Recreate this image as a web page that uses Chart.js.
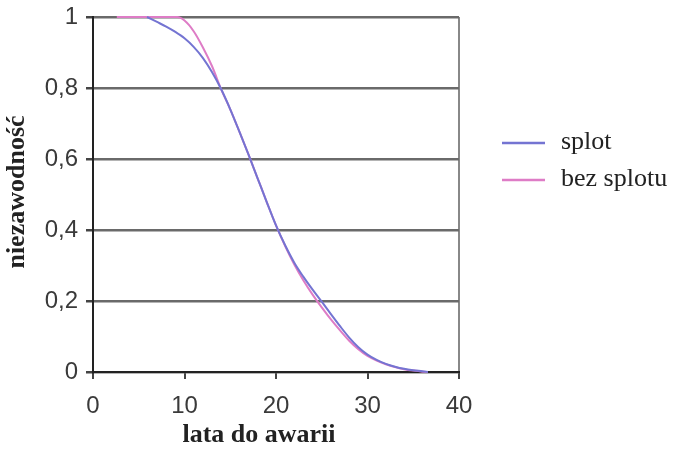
<!DOCTYPE html>
<html>
<head>
<meta charset="utf-8">
<script src="https://cdn.jsdelivr.net/npm/chart.js@4/dist/chart.umd.min.js"></script>
<style>
html,body{margin:0;padding:0;background:#fff;}
#wrap{width:673px;height:450px;}
</style>
</head>
<body>
<div id="wrap"><canvas id="c" width="673" height="450"></canvas></div>
<script>
const seriesNames = ['splot', 'bez splotu'];
const splotX = [5.9, 7, 8, 9, 10, 11, 12, 13, 14, 15, 16, 17, 18, 19, 20, 21, 22, 23, 24, 25, 26, 27, 28, 29, 30, 31, 32, 33, 34, 35, 36, 36.6];
const splotY = [1, 0.986, 0.973, 0.958, 0.94, 0.916, 0.885, 0.845, 0.797, 0.74, 0.677, 0.612, 0.545, 0.478, 0.413, 0.357, 0.308, 0.268, 0.232, 0.198, 0.163, 0.129, 0.097, 0.07, 0.049, 0.034, 0.023, 0.015, 0.009, 0.005, 0.002, 0];
const bezX = [2.6, 5, 8, 9.2, 10, 11, 12, 13, 14, 15, 16, 17, 18, 19, 20, 21, 22, 23, 24, 25, 26, 27, 28, 29, 30, 31, 32, 33, 34, 35, 36, 36.6];
const bezY = [1, 1, 1, 1, 0.99, 0.96, 0.915, 0.862, 0.797, 0.74, 0.677, 0.612, 0.545, 0.478, 0.413, 0.355, 0.303, 0.258, 0.218, 0.182, 0.148, 0.117, 0.088, 0.064, 0.045, 0.032, 0.022, 0.014, 0.008, 0.004, 0.001, 0];
const xTicks = [0, 10, 20, 30, 40];
const yTicks = [0, 0.2, 0.4, 0.6, 0.8, 1];
const xTitle = 'lata do awarii';
const yTitle = 'niezawodność';
const colors = ['#7474d2', '#de7cc6'];

const toPts = (xs, ys) => xs.map((x, i) => ({x: x, y: ys[i]}));

const titlesAndLegend = {
  id: 'titlesAndLegend',
  afterDraw(chart) {
    const ctx = chart.ctx;
    ctx.save();
    ctx.fillStyle = '#222';
    ctx.font = 'bold 26px "Liberation Serif"';
    ctx.textAlign = 'center';
    ctx.textBaseline = 'middle';
    ctx.fillText(xTitle, 259, 435);
    ctx.translate(17, 192);
    ctx.rotate(-Math.PI / 2);
    ctx.fillText(yTitle, 0, 0);
    ctx.restore();

    ctx.save();
    ctx.font = '26px "Liberation Serif"';
    ctx.textAlign = 'left';
    ctx.textBaseline = 'middle';
    chart.data.datasets.forEach((ds, i) => {
      const y = 143 + i * 37;
      ctx.strokeStyle = ds.borderColor;
      ctx.lineWidth = 2.5;
      ctx.beginPath();
      ctx.moveTo(502, y);
      ctx.lineTo(545, y);
      ctx.stroke();
      ctx.fillStyle = '#222';
      ctx.fillText(ds.label, 561, y - 1);
    });
    ctx.restore();
  }
};

new Chart(document.getElementById('c'), {
  type: 'line',
  data: {
    datasets: [
      {label: seriesNames[0], data: toPts(splotX, splotY), borderColor: colors[0], borderWidth: 2, pointRadius: 0, cubicInterpolationMode: 'monotone', fill: false, clip: 4},
      {label: seriesNames[1], data: toPts(bezX, bezY), borderColor: colors[1], borderWidth: 2, pointRadius: 0, cubicInterpolationMode: 'monotone', fill: false, clip: 4}
    ]
  },
  options: {
    responsive: false,
    animation: false,
    devicePixelRatio: 1,
    layout: {padding: {top: 17, right: 214, left: 0, bottom: 0}},
    plugins: {legend: {display: false}, tooltip: {enabled: false}},
    scales: {
      x: {
        type: 'linear', min: 0, max: 40,
        afterFit(s) { s.height = 78; s.paddingLeft = 0; s.paddingRight = 0; },
        afterBuildTicks(s) { s.ticks = xTicks.map(v => ({value: v})); },
        ticks: {font: {family: 'Liberation Sans', size: 24}, color: '#3a3a3a', padding: 13, maxRotation: 0, callback: v => String(v)},
        grid: {
          color: c => (c.tick && c.tick.value === 40) ? '#888' : 'rgba(0,0,0,0)',
          tickColor: '#444', lineWidth: 2, tickLength: 7, drawOnChartArea: true
        },
        border: {display: true, color: '#222', width: 2}
      },
      y: {
        type: 'linear', min: 0, max: 1,
        afterFit(s) { s.width = 93; s.paddingTop = 0; s.paddingBottom = 0; },
        afterBuildTicks(s) { s.ticks = yTicks.map(v => ({value: v})); },
        ticks: {font: {family: 'Liberation Sans', size: 24}, color: '#3a3a3a', padding: 8, callback: v => String(Math.round(v * 10) / 10).replace('.', ',')},
        grid: {color: '#6a6a6a', tickColor: '#444', lineWidth: 2.5, tickLength: 7},
        border: {display: true, color: '#222', width: 2}
      }
    }
  },
  plugins: [titlesAndLegend]
});
</script>
</body>
</html>
